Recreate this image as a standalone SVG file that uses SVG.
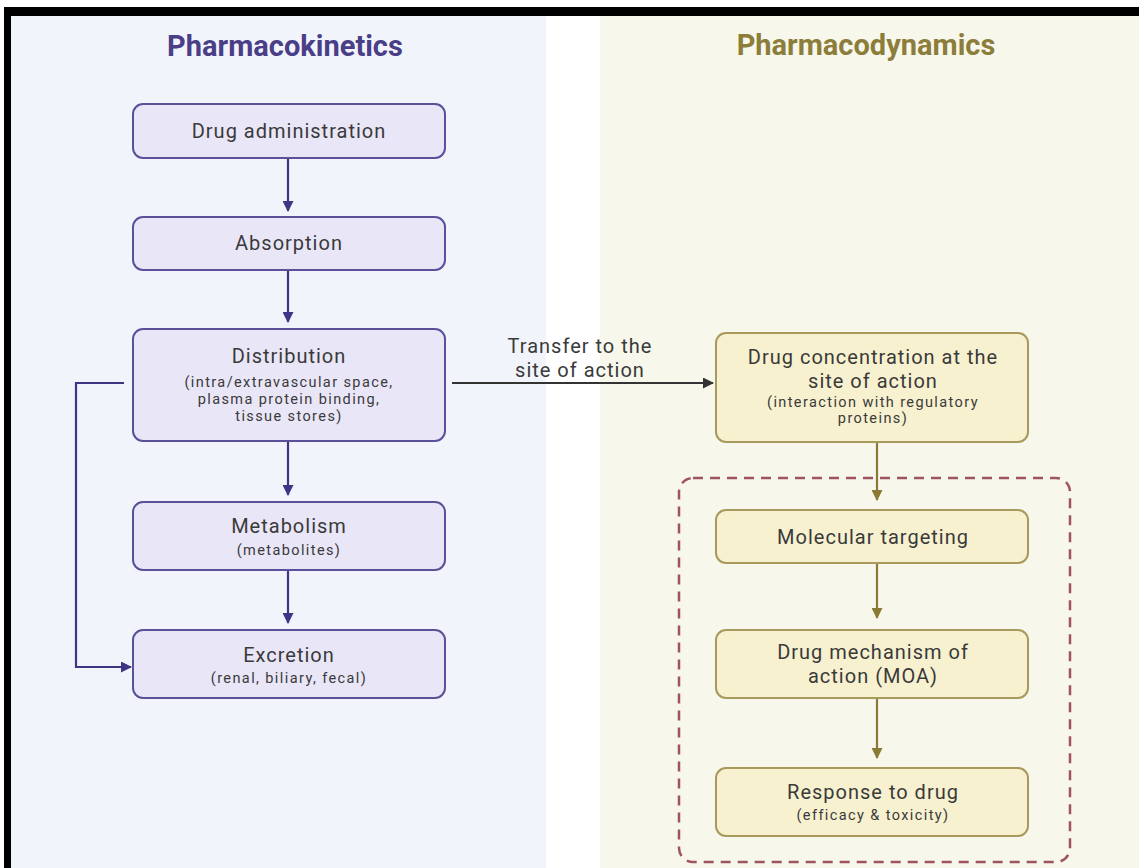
<svg xmlns="http://www.w3.org/2000/svg" width="1139" height="868" viewBox="0 0 1139 868">
<style>
.t{font-family:Roboto,"Liberation Sans",sans-serif;fill:#3a3a3a;text-anchor:middle}
.m{font-size:20px;letter-spacing:1px}
.s{font-size:14.5px;letter-spacing:1.4px}
.pk rect{fill:#e9e6f8;stroke:#5b5198;stroke-width:2}
.pd rect{fill:#f7f1d0;stroke:#a8995c;stroke-width:2}
.title{font-family:Roboto,"Liberation Sans",sans-serif;font-weight:bold;font-size:29px;text-anchor:middle}
</style>
<defs>
<marker id="ap" markerWidth="11" markerHeight="11" refX="10" refY="5.5" orient="auto" markerUnits="userSpaceOnUse"><path d="M0,0 L11,5.5 L0,11 Z" fill="#3f3585"/></marker>
<marker id="ag" markerWidth="11" markerHeight="11" refX="10" refY="5.5" orient="auto" markerUnits="userSpaceOnUse"><path d="M0,0 L11,5.5 L0,11 Z" fill="#8a7a34"/></marker>
<marker id="ak" markerWidth="11" markerHeight="11" refX="10" refY="5.5" orient="auto" markerUnits="userSpaceOnUse"><path d="M0,0 L11,5.5 L0,11 Z" fill="#333"/></marker>
</defs>
<rect x="0" y="0" width="1139" height="868" fill="#ffffff"/>
<rect x="10" y="15" width="536" height="853" fill="#f2f4fc"/>
<rect x="600" y="15" width="539" height="853" fill="#f7f7ec"/>
<rect x="4" y="7" width="1135" height="9" fill="#000"/>
<rect x="4" y="7" width="7" height="861" fill="#000"/>
<text class="title" x="285" y="56" fill="#4a3f86">Pharmacokinetics</text>
<text class="title" x="866" y="55" fill="#8c7d3a">Pharmacodynamics</text>
<rect x="679" y="478" width="391" height="384" rx="14" fill="none" stroke="#a0545e" stroke-width="2.5" stroke-dasharray="10,7"/>
<g id="connectors" fill="none" stroke-width="2.2">
<path d="M288,158 V211" stroke="#3f3585" marker-end="url(#ap)"/>
<path d="M288,270 V322" stroke="#3f3585" marker-end="url(#ap)"/>
<path d="M288,441 V495" stroke="#3f3585" marker-end="url(#ap)"/>
<path d="M288,570 V623" stroke="#3f3585" marker-end="url(#ap)"/>
<path d="M124,383 H76 V667 H131" stroke="#3f3585" marker-end="url(#ap)"/>
<path d="M452,383 H713" stroke="#333" marker-end="url(#ak)"/>
<path d="M877,442 V500" stroke="#8a7a34" marker-end="url(#ag)"/>
<path d="M877,563 V618" stroke="#8a7a34" marker-end="url(#ag)"/>
<path d="M877,698 V758" stroke="#8a7a34" marker-end="url(#ag)"/>
</g>
<text class="t m" x="580" y="353">Transfer to the</text>
<text class="t m" x="580" y="377">site of action</text>
<g id="drug-administration" class="pk"><rect x="133" y="104" width="312" height="54" rx="10"/><text class="t m" x="289" y="138">Drug administration</text></g>
<g id="absorption" class="pk"><rect x="133" y="217" width="312" height="53" rx="10"/><text class="t m" x="289" y="250">Absorption</text></g>
<g id="distribution" class="pk"><rect x="133" y="329" width="312" height="112" rx="10"/>
<text class="t m" x="289" y="363">Distribution</text>
<text class="t s" x="289" y="387">(intra/extravascular space,</text>
<text class="t s" x="289" y="404">plasma protein binding,</text>
<text class="t s" x="289" y="421">tissue stores)</text></g>
<g id="metabolism" class="pk"><rect x="133" y="502" width="312" height="68" rx="10"/>
<text class="t m" x="289" y="533">Metabolism</text>
<text class="t s" x="289" y="555">(metabolites)</text></g>
<g id="excretion" class="pk"><rect x="133" y="630" width="312" height="68" rx="10"/>
<text class="t m" x="289" y="662">Excretion</text>
<text class="t s" x="289" y="683">(renal, biliary, fecal)</text></g>
<g id="drug-concentration" class="pd"><rect x="716" y="333" width="312" height="109" rx="10"/>
<text class="t m" x="873" y="364">Drug concentration at the</text>
<text class="t m" x="873" y="388">site of action</text>
<text class="t s" x="873" y="407">(interaction with regulatory</text>
<text class="t s" x="873" y="423">proteins)</text></g>
<g id="molecular-targeting" class="pd"><rect x="716" y="510" width="312" height="53" rx="10"/>
<text class="t m" x="873" y="544">Molecular targeting</text></g>
<g id="drug-moa" class="pd"><rect x="716" y="630" width="312" height="68" rx="10"/>
<text class="t m" x="873" y="659">Drug mechanism of</text>
<text class="t m" x="873" y="683">action (MOA)</text></g>
<g id="response" class="pd"><rect x="716" y="768" width="312" height="68" rx="10"/>
<text class="t m" x="873" y="799">Response to drug</text>
<text class="t s" x="873" y="820">(efficacy &amp; toxicity)</text></g>
</svg>
